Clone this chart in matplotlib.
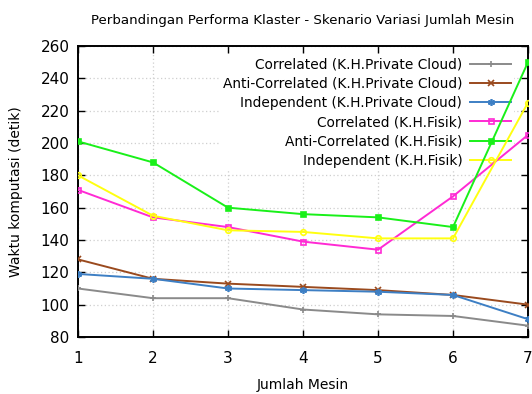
import matplotlib.pyplot as plt
import numpy as np

# jumlah mesin vs waktu komputasi (detik)
mesin = [1, 2, 3, 4, 5, 6, 7]

corr_pc = [110, 104, 104, 97, 94, 93, 87]
anti_pc = [128, 116, 113, 111, 109, 106, 100]
indep_pc = [119, 116, 110, 109, 108, 106, 91]
corr_fisik = [171, 154, 148, 139, 134, 167, 205]
anti_fisik = [201, 188, 160, 156, 154, 148, 250]
indep_fisik = [180, 155, 146, 145, 141, 141, 225]

labels = [
    "Correlated (K.H.Private Cloud)",
    "Anti-Correlated (K.H.Private Cloud)",
    "Independent (K.H.Private Cloud)",
    "Correlated (K.H.Fisik)",
    "Anti-Correlated (K.H.Fisik)",
    "Independent (K.H.Fisik)",
]

plt.rcParams["font.family"] = ["DejaVu Sans"]
plt.rcParams["font.size"] = 10

fig = plt.figure(figsize=(5.32, 3.94), dpi=100)
ax = fig.add_axes([0.1466, 0.1447, 0.8459, 0.7385])

series = [
    (corr_pc, "#8a8a8a", "+", dict(mfc="#8a8a8a", ms=5)),
    (anti_pc, "#9a4a1e", "x", dict(mfc="#9a4a1e", ms=4)),
    (indep_pc, "#3d7fc4", (6, 2, 0), dict(mfc="#3d7fc4", ms=5)),
    (corr_fisik, "#ff2ad4", "s", dict(mfc="none", ms=3.6)),
    (anti_fisik, "#19f019", "s", dict(mfc="#19f019", ms=3.6)),
    (indep_fisik, "#ffff10", "o", dict(mfc="none", ms=4)),
]

for (vals, col, mk, kw), lab in zip(series, labels):
    ax.plot(mesin, vals, color=col, lw=1.4, marker=mk, mew=1.2,
            mec=col, label=lab, zorder=3, **kw)

ax.set_xlim(1, 7)
ax.set_ylim(80, 260)
ax.set_xticks(mesin)
ax.set_yticks(np.arange(80, 261, 20))
ax.set_axisbelow(True)
ax.grid(True, color="#cfcfcf", linestyle=(0, (1, 2)), linewidth=0.9)
ax.tick_params(direction="in", top=True, right=True, length=5, width=1,
               labelsize=11)
ax.tick_params(axis="x", pad=10)
ax.tick_params(axis="y", pad=6)
for s in ax.spines.values():
    s.set_linewidth(1.4)

ax.set_title("Perbandingan Performa Klaster - Skenario Variasi Jumlah Mesin",
             fontsize=9.6, pad=16)
ax.set_xlabel("Jumlah Mesin", labelpad=9)
ax.set_ylabel("Waktu komputasi (detik)", labelpad=13)

# legenda menutupi grid, tapi garis data tetap di atasnya
leg = ax.legend(loc="upper right", frameon=True, markerfirst=False,
                numpoints=1, handlelength=2.95, handletextpad=0.58,
                labelspacing=0.38, borderpad=0.2, borderaxespad=0.0,
                bbox_to_anchor=(0.968, 0.97), fontsize=9.9)
leg.get_frame().set_facecolor("white")
leg.get_frame().set_edgecolor("none")
leg.get_frame().set_alpha(1)
leg.set_zorder(2)

fig.savefig("out.png", dpi=100)
